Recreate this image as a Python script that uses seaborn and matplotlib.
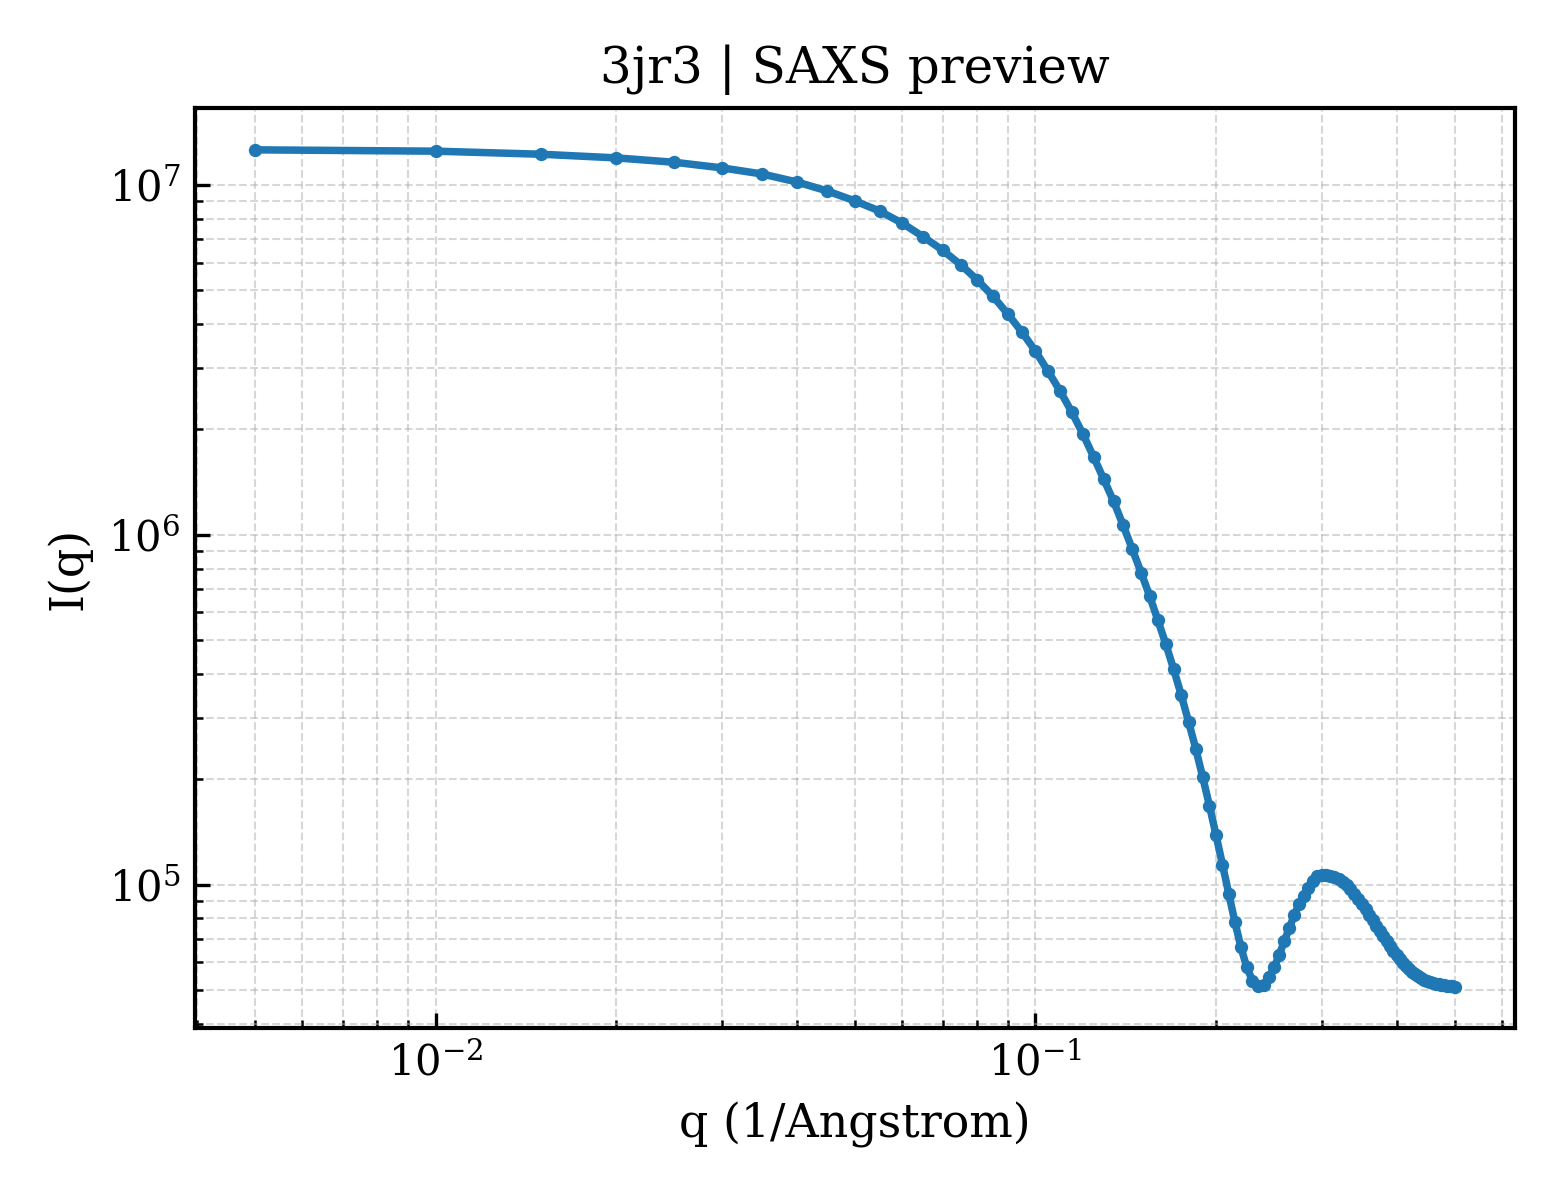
import matplotlib
matplotlib.use("Agg")
import matplotlib.pyplot as plt
import seaborn as sns
import pandas as pd

plt.rcParams['font.family'] = ['DejaVu Serif']
plt.rcParams['mathtext.fontset'] = 'dejavuserif'

# q grid (1/Angstrom)
q = [0.005, 0.010, 0.015, 0.020, 0.025, 0.030, 0.035, 0.040, 0.045, 0.050,
     0.055, 0.060, 0.065, 0.070, 0.075, 0.080, 0.085, 0.090, 0.095, 0.100,
     0.105, 0.110, 0.115, 0.120, 0.125, 0.130, 0.135, 0.140, 0.145, 0.150,
     0.155, 0.160, 0.165, 0.170, 0.175, 0.180, 0.185, 0.190, 0.195, 0.200,
     0.205, 0.210, 0.215, 0.220, 0.225, 0.230, 0.235, 0.240, 0.245, 0.250,
     0.255, 0.260, 0.265, 0.270, 0.275, 0.280, 0.285, 0.290, 0.295, 0.300,
     0.305, 0.310, 0.315, 0.320, 0.325, 0.330, 0.335, 0.340, 0.345, 0.350,
     0.355, 0.360, 0.365, 0.370, 0.375, 0.380, 0.385, 0.390, 0.395, 0.400,
     0.405, 0.410, 0.415, 0.420, 0.425, 0.430, 0.435, 0.440, 0.445, 0.450,
     0.455, 0.460, 0.465, 0.470, 0.475, 0.480, 0.485, 0.490, 0.495, 0.500]

# intensity I(q)
intensity = [1.260e7, 1.249e7, 1.224e7, 1.195e7, 1.161e7, 1.119e7, 1.075e7, 1.020e7, 9.61e6, 9.00e6,
             8.42e6, 7.77e6, 7.11e6, 6.51e6, 5.92e6, 5.35e6, 4.80e6, 4.27e6, 3.79e6, 3.35e6,
             2.93e6, 2.57e6, 2.24e6, 1.94e6, 1.67e6, 1.44e6, 1.245e6, 1.065e6, 9.10e5, 7.80e5,
             6.68e5, 5.69e5, 4.86e5, 4.12e5, 3.48e5, 2.92e5, 2.445e5, 2.03e5, 1.68e5, 1.384e5,
             1.14e5, 9.42e4, 7.82e4, 6.63e4, 5.80e4, 5.31e4, 5.12e4, 5.15e4, 5.44e4, 5.80e4,
             6.31e4, 6.90e4, 7.52e4, 8.17e4, 8.79e4, 9.29e4, 9.79e4, 1.026e5, 1.056e5, 1.066e5,
             1.068e5, 1.060e5, 1.050e5, 1.038e5, 1.020e5, 9.98e4, 9.71e4, 9.42e4, 9.12e4, 8.81e4,
             8.50e4, 8.19e4, 7.90e4, 7.63e4, 7.37e4, 7.11e4, 6.88e4, 6.66e4, 6.47e4, 6.29e4,
             6.13e4, 5.98e4, 5.85e4, 5.74e4, 5.64e4, 5.55e4, 5.47e4, 5.40e4, 5.34e4, 5.29e4,
             5.25e4, 5.22e4, 5.20e4, 5.18e4, 5.16e4, 5.15e4, 5.14e4, 5.13e4, 5.12e4, 5.11e4]

df = pd.DataFrame({"q": q, "I": intensity})

fig, ax = plt.subplots(figsize=(5.2, 4.0), dpi=300)
ax.set_xscale("log")
ax.set_yscale("log")
sns.lineplot(data=df, x="q", y="I", ax=ax, color="#1f77b4", linewidth=1.8,
             marker="o", markersize=3.2, markeredgewidth=0)

ax.grid(True, which="both", linestyle="--", linewidth=0.5, color="#b0b0b0", alpha=0.5)
ax.tick_params(which="both", direction="in", top=False, right=False,
               colors="black", labelsize=10)
for s in ax.spines.values():
    s.set_linewidth(1.0)
    s.set_color("black")

ax.set_xlabel("q (1/Angstrom)", fontsize=11)
ax.set_ylabel("I(q)", fontsize=11)
ax.set_title("3jr3 | SAXS preview", fontsize=12)

fig.subplots_adjust(left=0.125, right=0.971, top=0.91, bottom=0.143)
fig.savefig("out.png", dpi=300)
